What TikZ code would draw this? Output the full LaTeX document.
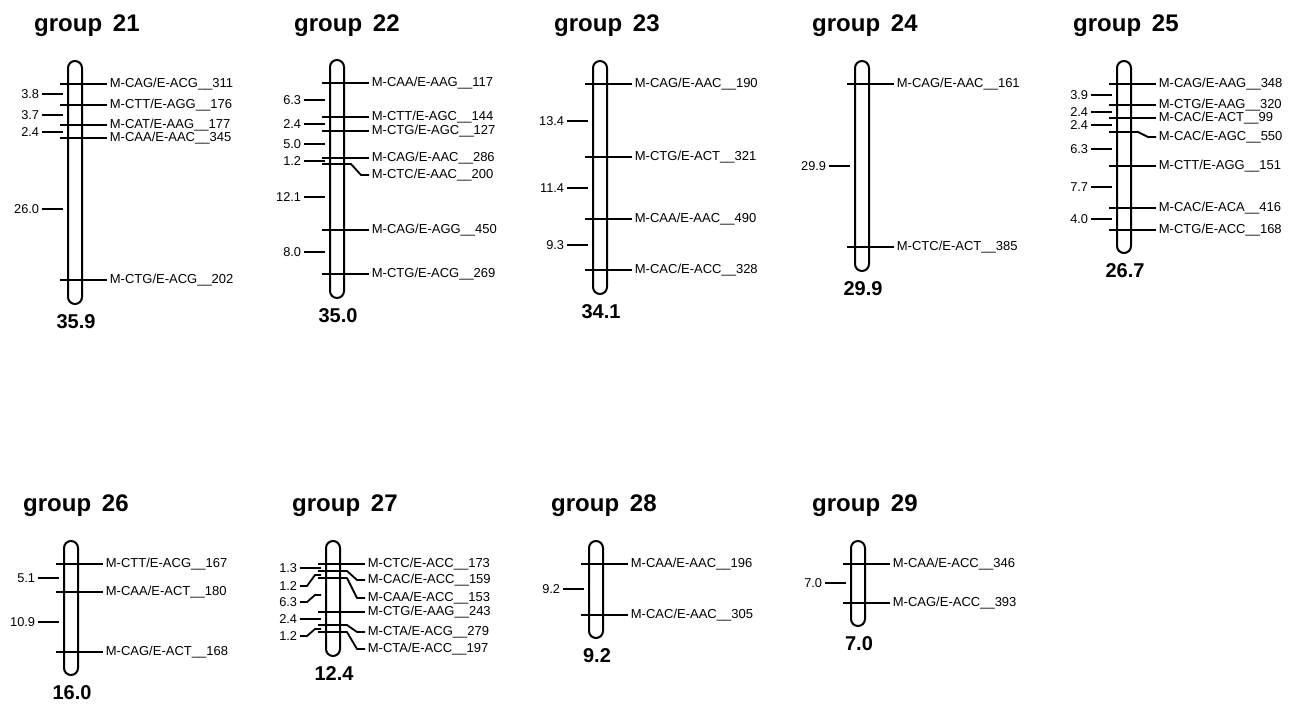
\documentclass[tikz,border=0pt]{standalone}
\usepackage{fontspec}
\setmainfont{Liberation Sans}
\tikzset{
  x=1pt,y=-1pt,
  barline/.style={line width=2pt, rounded corners=7pt},
  tickline/.style={line width=1.8pt, line join=round},
  mlabel/.style={anchor=west, inner sep=0pt, font=\fontsize{13}{15}\selectfont},
  dlabel/.style={anchor=east, inner sep=0pt, font=\fontsize{12.8}{14}\selectfont},
  grptitle/.style={anchor=base west, inner sep=0pt, font=\bfseries\fontsize{24}{28}\selectfont},
  grptotal/.style={anchor=base, inner sep=0pt, font=\bfseries\fontsize{20}{24}\selectfont},
}
\def\sc{5.46}
% bar: name, cx, y0, length, total text
\newcommand\lgbar[5]{%
  \pgfmathsetmacro\bartop{round(#3-23.5)}%
  \pgfmathsetmacro\barbot{round(#3+\sc*#4+23.5)}%
  \draw[barline] ({#2-7},\bartop) rectangle ({#2+7},\barbot);
  \node[grptotal] (#1) at ({#2+1},{\barbot+24}) {#5};
}
% marker: name, cx, y0, pos, label shift, text
\newcommand\mk[6]{%
  \pgfmathsetmacro\ty{round(#3+\sc*#4)}%
  \pgfmathsetmacro\ly{round(#3+\sc*#4+#5)}%
  \draw[tickline] ({#2-15},\ty) -- ({#2+14},\ty) -- ({#2+24},\ly) -- ({#2+32},\ly) node[mlabel,xshift=2pt] (#1) {#6};
}
% distance: name, cx, y0, mid pos, label shift, text
\newcommand\dst[6]{%
  \pgfmathsetmacro\ty{round(#3+\sc*#4)}%
  \pgfmathsetmacro\ly{round(#3+\sc*#4+#5)}%
  \draw[tickline] ({#2-12},\ty) -- ({#2-18},\ty) -- ({#2-26},\ly) -- ({#2-33},\ly) node[dlabel,xshift=-2pt] (#1) {#6};
}
\begin{document}
\begin{tikzpicture}
\useasboundingbox (0,0) rectangle (1290,704);
% ---------- group 21
\node[grptitle] (g21t) at (34,31.7) {group\hspace{0.45em}21};
\lgbar{g21n}{75}{84}{35.9}{35.9}
\mk{g21m1}{75}{84}{0}{0}{M-CAG/E-ACG\_\_311}
\mk{g21m2}{75}{84}{3.8}{0}{M-CTT/E-AGG\_\_176}
\mk{g21m3}{75}{84}{7.5}{0}{M-CAT/E-AAG\_\_177}
\mk{g21m4}{75}{84}{9.9}{0}{M-CAA/E-AAC\_\_345}
\mk{g21m5}{75}{84}{35.9}{0}{M-CTG/E-ACG\_\_202}
\dst{g21d1}{75}{84}{1.9}{0}{3.8}
\dst{g21d2}{75}{84}{5.65}{0}{3.7}
\dst{g21d3}{75}{84}{8.7}{0}{2.4}
\dst{g21d4}{75}{84}{22.9}{0}{26.0}
% ---------- group 22
\node[grptitle] (g22t) at (294,31.7) {group\hspace{0.45em}22};
\lgbar{g22n}{337}{83}{35.0}{35.0}
\mk{g22m1}{337}{83}{0}{0}{M-CAA/E-AAG\_\_117}
\mk{g22m2}{337}{83}{6.3}{0}{M-CTT/E-AGC\_\_144}
\mk{g22m3}{337}{83}{8.7}{0}{M-CTG/E-AGC\_\_127}
\mk{g22m4}{337}{83}{13.7}{0}{M-CAG/E-AAC\_\_286}
\mk{g22m5}{337}{83}{14.9}{10.8}{M-CTC/E-AAC\_\_200}
\mk{g22m6}{337}{83}{27.0}{0}{M-CAG/E-AGG\_\_450}
\mk{g22m7}{337}{83}{35.0}{0}{M-CTG/E-ACG\_\_269}
\dst{g22d1}{337}{83}{3.15}{0}{6.3}
\dst{g22d2}{337}{83}{7.5}{0}{2.4}
\dst{g22d3}{337}{83}{11.2}{0}{5.0}
\dst{g22d4}{337}{83}{14.3}{0}{1.2}
\dst{g22d5}{337}{83}{20.95}{0}{12.1}
\dst{g22d6}{337}{83}{31.0}{0}{8.0}
% ---------- group 23
\node[grptitle] (g23t) at (554,31.7) {group\hspace{0.45em}23};
\lgbar{g23n}{600}{84}{34.1}{34.1}
\mk{g23m1}{600}{84}{0}{0}{M-CAG/E-AAC\_\_190}
\mk{g23m2}{600}{84}{13.4}{0}{M-CTG/E-ACT\_\_321}
\mk{g23m3}{600}{84}{24.8}{0}{M-CAA/E-AAC\_\_490}
\mk{g23m4}{600}{84}{34.1}{0}{M-CAC/E-ACC\_\_328}
\dst{g23d1}{600}{84}{6.7}{0}{13.4}
\dst{g23d2}{600}{84}{19.1}{0}{11.4}
\dst{g23d3}{600}{84}{29.45}{0}{9.3}
% ---------- group 24
\node[grptitle] (g24t) at (812,31.7) {group\hspace{0.45em}24};
\lgbar{g24n}{862}{84}{29.9}{29.9}
\mk{g24m1}{862}{84}{0}{0}{M-CAG/E-AAC\_\_161}
\mk{g24m2}{862}{84}{29.9}{0}{M-CTC/E-ACT\_\_385}
\dst{g24d1}{862}{84}{14.95}{0}{29.9}
% ---------- group 25
\node[grptitle] (g25t) at (1073,31.7) {group\hspace{0.45em}25};
\lgbar{g25n}{1124}{84}{26.7}{26.7}
\mk{g25m1}{1124}{84}{0}{0}{M-CAG/E-AAG\_\_348}
\mk{g25m2}{1124}{84}{3.9}{0}{M-CTG/E-AAG\_\_320}
\mk{g25m3}{1124}{84}{6.3}{0}{M-CAC/E-ACT\_\_99}
\mk{g25m4}{1124}{84}{8.7}{5.2}{M-CAC/E-AGC\_\_550}
\mk{g25m5}{1124}{84}{15.0}{0}{M-CTT/E-AGG\_\_151}
\mk{g25m6}{1124}{84}{22.7}{0}{M-CAC/E-ACA\_\_416}
\mk{g25m7}{1124}{84}{26.7}{0}{M-CTG/E-ACC\_\_168}
\dst{g25d1}{1124}{84}{1.95}{0}{3.9}
\dst{g25d2}{1124}{84}{5.1}{0}{2.4}
\dst{g25d3}{1124}{84}{7.5}{0}{2.4}
\dst{g25d4}{1124}{84}{11.85}{0}{6.3}
\dst{g25d5}{1124}{84}{18.85}{0}{7.7}
\dst{g25d6}{1124}{84}{24.7}{0}{4.0}
% ---------- group 26
\node[grptitle] (g26t) at (23,511.7) {group\hspace{0.45em}26};
\lgbar{g26n}{71}{564.3}{16.0}{16.0}
\mk{g26m1}{71}{564.3}{0}{0}{M-CTT/E-ACG\_\_167}
\mk{g26m2}{71}{564.3}{5.1}{0}{M-CAA/E-ACT\_\_180}
\mk{g26m3}{71}{564.3}{16.0}{0}{M-CAG/E-ACT\_\_168}
\dst{g26d1}{71}{564.3}{2.55}{0}{5.1}
\dst{g26d2}{71}{564.3}{10.55}{0}{10.9}
% ---------- group 27
\node[grptitle] (g27t) at (292,511.7) {group\hspace{0.45em}27};
\lgbar{g27n}{333}{564.3}{12.4}{12.4}
\mk{g27m1}{333}{564.3}{0}{0}{M-CTC/E-ACC\_\_173}
\mk{g27m2}{333}{564.3}{1.3}{8.6}{M-CAC/E-ACC\_\_159}
\mk{g27m3}{333}{564.3}{2.5}{19.7}{M-CAA/E-ACC\_\_153}
\mk{g27m4}{333}{564.3}{8.8}{0}{M-CTG/E-AAG\_\_243}
\mk{g27m5}{333}{564.3}{11.2}{6.1}{M-CTA/E-ACG\_\_279}
\mk{g27m6}{333}{564.3}{12.4}{16.9}{M-CTA/E-ACC\_\_197}
\dst{g27d1}{333}{564.3}{0.65}{0}{1.3}
\dst{g27d2}{333}{564.3}{1.9}{11.3}{1.2}
\dst{g27d3}{333}{564.3}{5.65}{6.6}{6.3}
\dst{g27d4}{333}{564.3}{10.0}{0}{2.4}
\dst{g27d5}{333}{564.3}{11.8}{7}{1.2}
% ---------- group 28
\node[grptitle] (g28t) at (551,511.7) {group\hspace{0.45em}28};
\lgbar{g28n}{596}{564.3}{9.2}{9.2}
\mk{g28m1}{596}{564.3}{0}{0}{M-CAA/E-AAC\_\_196}
\mk{g28m2}{596}{564.3}{9.2}{0}{M-CAC/E-AAC\_\_305}
\dst{g28d1}{596}{564.3}{4.6}{0}{9.2}
% ---------- group 29
\node[grptitle] (g29t) at (812,511.7) {group\hspace{0.45em}29};
\lgbar{g29n}{858}{564.3}{7.0}{7.0}
\mk{g29m1}{858}{564.3}{0}{0}{M-CAA/E-ACC\_\_346}
\mk{g29m2}{858}{564.3}{7.0}{0}{M-CAG/E-ACC\_\_393}
\dst{g29d1}{858}{564.3}{3.5}{0}{7.0}
\end{tikzpicture}
\end{document}
